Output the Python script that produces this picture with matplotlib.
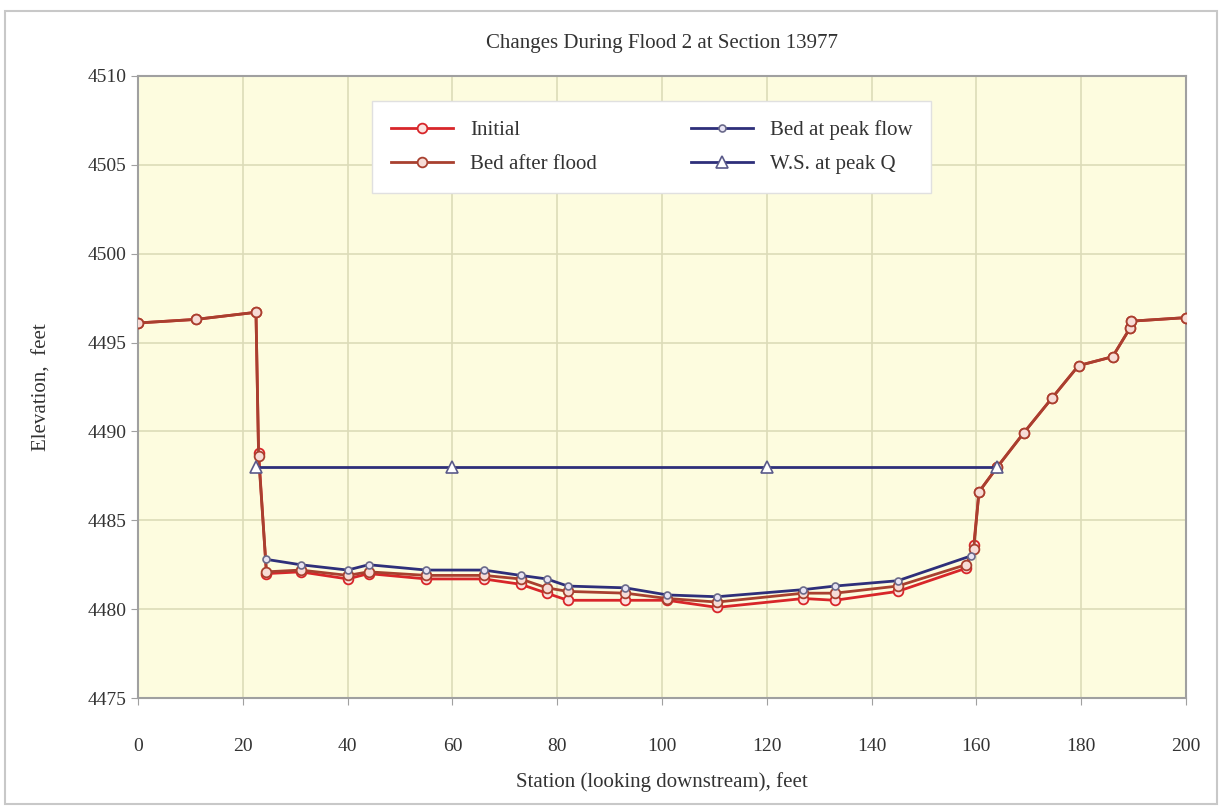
import numpy as np
import matplotlib.pyplot as plt

# station (ft) and elevation (ft)
initial_x = [0, 11, 22.5, 23, 24.5, 31, 40, 44, 55, 66, 73, 78, 82, 93, 101, 110.5,
             127, 133, 145, 158, 159.5, 160.5, 164, 169, 174.5, 179.5, 186, 189.3, 189.5, 200]
initial_y = [4496.1, 4496.3, 4496.7, 4488.8, 4482.0, 4482.1, 4481.7, 4482.0, 4481.7, 4481.7,
             4481.4, 4480.9, 4480.5, 4480.5, 4480.5, 4480.1, 4480.6, 4480.5, 4481.0, 4482.3,
             4483.6, 4486.6, 4488.0, 4489.9, 4491.9, 4493.7, 4494.2, 4495.8, 4496.2, 4496.4]

after_x = [0, 11, 22.5, 23, 24.5, 31, 40, 44, 55, 66, 73, 78, 82, 93, 101, 110.5,
           127, 133, 145, 158, 159.5, 160.5, 164, 169, 174.5, 179.5, 186, 189.3, 189.5, 200]
after_y = [4496.1, 4496.3, 4496.7, 4488.6, 4482.1, 4482.2, 4481.9, 4482.1, 4481.9, 4481.9,
           4481.7, 4481.2, 4481.0, 4480.9, 4480.6, 4480.4, 4480.9, 4480.9, 4481.3, 4482.5,
           4483.4, 4486.6, 4488.0, 4489.9, 4491.9, 4493.7, 4494.2, 4495.8, 4496.2, 4496.4]

peak_x = [24.5, 31, 40, 44, 55, 66, 73, 78, 82, 93, 101, 110.5, 127, 133, 145, 159]
peak_y = [4482.8, 4482.5, 4482.2, 4482.5, 4482.2, 4482.2, 4481.9, 4481.7, 4481.3, 4481.2,
          4480.8, 4480.7, 4481.1, 4481.3, 4481.6, 4483.0]

ws_x = [22.5, 60, 120, 164]
ws_y = [4488.0, 4488.0, 4488.0, 4488.0]

plt.rcParams['font.family'] = ['Liberation Serif', 'DejaVu Serif']

fig = plt.figure(figsize=(12.22, 8.07), dpi=100)
ax = fig.add_axes([0.113, 0.135, 0.8575, 0.771])
ax.set_facecolor('#fdfcdf')

red = '#d8262a'
brown = '#a8402f'
navy = '#2e2f7a'

ax.plot(initial_x, initial_y, color=red, lw=2, marker='o', ms=7,
        mfc='#fbe3e0', mec=red, mew=1.3, label='Initial', zorder=3)
ax.plot(peak_x, peak_y, color=navy, lw=2, marker='o', ms=5,
        mfc='#e8e4f4', mec='#6a6a8a', mew=1.2, label='Bed at peak flow', zorder=4)
ax.plot(after_x, after_y, color=brown, lw=2, marker='o', ms=7,
        mfc='#f7dcd6', mec=brown, mew=1.3, label='Bed after flood', zorder=3)
ax.plot(ws_x, ws_y, color=navy, lw=2, marker='^', ms=9,
        mfc='white', mec='#5a5a8a', mew=1.2, label='W.S. at peak Q', zorder=5)

ax.set_xlim(0, 200)
ax.set_ylim(4475, 4510)
ax.set_xticks(np.arange(0, 201, 20))
ax.set_yticks(np.arange(4475, 4511, 5))
ax.grid(True, color='#dcdcb8', lw=1.2)
ax.set_axisbelow(True)
for s in ax.spines.values():
    s.set_color('#a0a0a0')
    s.set_linewidth(1.5)
ax.tick_params(labelsize=14, colors='#333333', length=5, color='#a0a0a0')
ax.tick_params(axis='x', pad=24)
for lab in ax.get_xticklabels() + ax.get_yticklabels():
    lab.set_color('#333333')

ax.set_xlabel('Station (looking downstream), feet', fontsize=15, color='#333333', labelpad=12)
ax.set_ylabel('Elevation,  feet', fontsize=15, color='#333333', labelpad=26)
ax.set_title('Changes During Flood 2 at Section 13977', fontsize=15, color='#333333', pad=20)

h, l = ax.get_legend_handles_labels()
order = [0, 2, 1, 3]
leg = ax.legend([h[i] for i in order], [l[i] for i in order], ncol=2,
                loc='upper center', bbox_to_anchor=(0.49, 0.976), fontsize=15,
                frameon=True, fancybox=False, framealpha=1, edgecolor='#e0e0e0',
                columnspacing=4.5, handlelength=3.0, borderpad=0.9, labelspacing=0.7)
for t in leg.get_texts():
    t.set_color('#333333')

# border round the whole chart
fig.patches.append(plt.Rectangle((0.004, 0.004), 0.992, 0.982, transform=fig.transFigure,
                                 fill=False, edgecolor='#c8c8c8', lw=1.5))

fig.savefig('out.png', dpi=100)
